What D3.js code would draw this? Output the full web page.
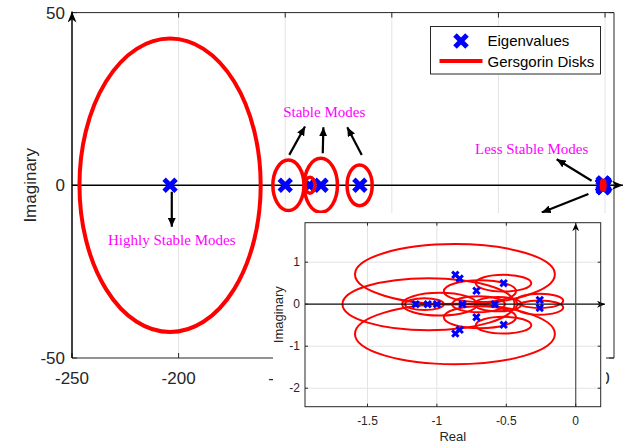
<!DOCTYPE html>
<html>
<head>
<meta charset="utf-8">
<script src="https://cdn.jsdelivr.net/npm/d3@7"></script>
<style>
  body { margin: 0; background: #fff; }
  svg { display: block; font-family: "Liberation Sans", Arial, sans-serif; }
</style>
</head>
<body>
<script>
// eigenvalues far from the origin (main plot)
const farRe = [-204, -150, -138.7, -133.2, -115];
const farIm = [0, 0, 0, 0, 0];
// gersgorin disks for those (centre, radius)
const farDiskRe = [-204, -148.5, -138.4, -133.3, -115.1];
const farDiskIm = [0, 0, 0, 0, 0];
const farDiskR = [42.5, 7.3, 2.3, 7.8, 5.9];

// eigenvalues close to the origin (shown in the inset)
const nearRe = [-1.153, -1.066, -1.0, -0.816, -0.582, -0.867, -0.867, -0.836, -0.836, -0.715, -0.715, -0.519, -0.519, -0.259, -0.259];
const nearIm = [0, 0, 0, 0, 0, 0.70, -0.70, 0.61, -0.61, 0.32, -0.31, 0.50, -0.49, 0.10, -0.09];
const nearDiskRe = [-0.87, -0.87, -1.06, -0.98, -1.09, -0.69, -0.69, -0.52, -0.52, -0.26, -0.26, -0.70, -0.56];
const nearDiskIm = [0.71, -0.71, 0, 0, 0, 0.31, -0.31, 0.50, -0.50, 0.08, -0.08, 0, 0];
const nearDiskR = [0.72, 0.72, 0.62, 0.27, 0.14, 0.26, 0.26, 0.20, 0.20, 0.17, 0.17, 0.19, 0.17];

// ticks
const mainXTicks = [-250, -200, -150, -100, -50, 0];
const mainYTicks = [-50, 0, 50];
const insetXTicks = [-1.5, -1, -0.5, 0];
const insetYTicks = [-2, -1, 0, 1];

// annotations (data units of the main plot)
const noteText = ['Highly Stable Modes', 'Stable Modes', 'Less Stable Modes'];
const noteX = [-203.2, -131.7, -34.4];
const noteY = [-17.3, 19.7, 9.0];
const arrowX1 = [-203.2, -148.1, -132.4, -114.1, -6.3, -7.8];
const arrowY1 = [-1.85, 8.8, 9.3, 8.8, 1.33, -2.5];
const arrowX2 = [-203.2, -140.7, -132.1, -120.9, -22.7, -29.7];
const arrowY2 = [-12.0, 17.0, 16.8, 16.8, 7.53, -7.9];

const W = 624, H = 446;
const RED = '#ff0000', BLUE = '#0000ff', AX = '#262626', GRID = '#e3e3e3';

const svg = d3.select('body').append('svg')
  .attr('width', W).attr('height', H);
svg.append('rect').attr('width', W).attr('height', H).attr('fill', '#fff');

const defs = svg.append('defs');
defs.append('marker').attr('id', 'ah')
  .attr('viewBox', '0 0 9 8').attr('refX', 9).attr('refY', 4)
  .attr('markerUnits', 'userSpaceOnUse').attr('markerWidth', 9).attr('markerHeight', 8)
  .attr('orient', 'auto').attr('preserveAspectRatio', 'none')
  .append('path').attr('d', 'M0,0L9,4L0,8Z').attr('fill', '#000');
defs.append('marker').attr('id', 'axh')
  .attr('viewBox', '0 0 10 10').attr('refX', 10).attr('refY', 5)
  .attr('markerUnits', 'userSpaceOnUse').attr('markerWidth', 11).attr('markerHeight', 9)
  .attr('orient', 'auto').attr('preserveAspectRatio', 'none')
  .append('path').attr('d', 'M0,0L10,5L0,10L3,5Z').attr('fill', '#000');
defs.append('marker').attr('id', 'axs')
  .attr('viewBox', '0 0 10 10').attr('refX', 10).attr('refY', 5)
  .attr('markerUnits', 'userSpaceOnUse').attr('markerWidth', 8).attr('markerHeight', 7)
  .attr('orient', 'auto').attr('preserveAspectRatio', 'none')
  .append('path').attr('d', 'M0,0L10,5L0,10L3,5Z').attr('fill', '#000');

const xMark = s => `M${-s},${-s}L${s},${s}M${-s},${s}L${s},${-s}`;

// ---------- main plot ----------
const mL = 72, mR = 614, mT = 12.6, mB = 358;
const x = d3.scaleLinear().domain([-250, 4.2]).range([mL, mR]);
const y = d3.scaleLinear().domain([-50, 50]).range([mB, mT]);

const main = svg.append('g');
main.selectAll('.vgrid').data(mainXTicks.slice(1)).enter().append('line')
  .attr('x1', d => x(d)).attr('x2', d => x(d)).attr('y1', mT).attr('y2', mB)
  .attr('stroke', GRID).attr('stroke-width', 1);

// box
main.append('path')
  .attr('d', `M${mL},${mB}L${mR},${mB}L${mR},${mT}L${mL},${mT}`)
  .attr('fill', 'none').attr('stroke', AX).attr('stroke-width', 1);

// tick marks, mirrored like a boxed axes
mainXTicks.forEach(t => {
  main.append('line').attr('x1', x(t)).attr('x2', x(t)).attr('y1', mB).attr('y2', mB - 5).attr('stroke', AX);
  main.append('line').attr('x1', x(t)).attr('x2', x(t)).attr('y1', mT).attr('y2', mT + 5).attr('stroke', AX);
});
mainYTicks.forEach(t => {
  main.append('line').attr('x1', mL).attr('x2', mL + 5).attr('y1', y(t)).attr('y2', y(t)).attr('stroke', AX);
  main.append('line').attr('x1', mR).attr('x2', mR - 5).attr('y1', y(t)).attr('y2', y(t)).attr('stroke', AX);
});

main.selectAll('.xl').data(mainXTicks).enter().append('text')
  .attr('x', d => x(d)).attr('y', 384).attr('text-anchor', 'middle')
  .attr('font-size', 17).attr('fill', AX).text(d => d);
main.selectAll('.yl').data(mainYTicks).enter().append('text')
  .attr('x', mL - 7).attr('y', d => y(d)).attr('dy', '0.35em').attr('text-anchor', 'end')
  .attr('font-size', 17).attr('fill', AX).text(d => d);
main.append('text')
  .attr('transform', `translate(36,${y(0)}) rotate(-90)`)
  .attr('text-anchor', 'middle').attr('font-size', 17).attr('fill', AX).text('Imaginary');

// axis arrows
main.append('line').attr('x1', mL).attr('x2', mL).attr('y1', mB).attr('y2', mT - 1)
  .attr('stroke', '#000').attr('stroke-width', 1.5).attr('marker-end', 'url(#axh)');
main.append('line').attr('x1', mL).attr('x2', 623).attr('y1', y(0)).attr('y2', y(0))
  .attr('stroke', '#000').attr('stroke-width', 1.5).attr('marker-end', 'url(#axh)');

// eigenvalues (blue) under the disks (red)
const allRe = farRe.concat(nearRe), allIm = farIm.concat(nearIm);
main.selectAll('.ev').data(allRe).enter().append('path')
  .attr('d', xMark(6))
  .attr('transform', (d, i) => `translate(${x(d)},${y(allIm[i])})`)
  .attr('fill', 'none').attr('stroke', BLUE).attr('stroke-width', 4.8);

const diskRe = farDiskRe.concat(nearDiskRe), diskIm = farDiskIm.concat(nearDiskIm), diskR = farDiskR.concat(nearDiskR);
main.selectAll('.disk').data(diskRe).enter().append('ellipse')
  .attr('cx', d => x(d)).attr('cy', (d, i) => y(diskIm[i]))
  .attr('rx', (d, i) => x(d + diskR[i]) - x(d))
  .attr('ry', (d, i) => y(diskIm[i]) - y(diskIm[i] + diskR[i]))
  .attr('fill', 'none').attr('stroke', RED)
  .attr('stroke-width', (d, i) => diskR[i] > 20 ? 4 : 3.5);

// annotations
main.selectAll('.arr').data(arrowX1).enter().append('line')
  .attr('x1', d => x(d)).attr('y1', (d, i) => y(arrowY1[i]))
  .attr('x2', (d, i) => x(arrowX2[i])).attr('y2', (d, i) => y(arrowY2[i]))
  .attr('stroke', '#000').attr('stroke-width', 2.2).attr('marker-end', 'url(#ah)');
main.selectAll('.note').data(noteText).enter().append('text')
  .attr('x', (d, i) => x(noteX[i])).attr('y', (d, i) => y(noteY[i]))
  .attr('text-anchor', 'middle').attr('font-family', '"Liberation Serif", "Times New Roman", serif')
  .attr('font-size', 15).attr('fill', '#ff00ff').text(d => d);

// legend
const leg = main.append('g');
leg.append('rect').attr('x', 430.5).attr('y', 26.5).attr('width', 170).attr('height', 47.5)
  .attr('fill', '#fff').attr('stroke', AX).attr('stroke-width', 1);
leg.append('path').attr('d', xMark(6)).attr('transform', 'translate(461,41)')
  .attr('fill', 'none').attr('stroke', BLUE).attr('stroke-width', 5);
leg.append('line').attr('x1', 439.5).attr('x2', 482.5).attr('y1', 61).attr('y2', 61)
  .attr('stroke', RED).attr('stroke-width', 4);
leg.append('text').attr('x', 487.5).attr('y', 41).attr('dy', '0.35em')
  .attr('font-size', 15).attr('fill', '#000').text('Eigenvalues');
leg.append('text').attr('x', 487.5).attr('y', 61.5).attr('dy', '0.35em')
  .attr('font-size', 15).attr('fill', '#000').text('Gersgorin Disks');

// ---------- inset ----------
svg.append('rect').attr('x', 273).attr('y', 213).attr('width', 333).attr('height', H - 213).attr('fill', '#fff');

const iL = 305, iR = 600.7, iT = 222.7, iB = 406.7;
const xi = d3.scaleLinear().domain([-1.95, 0.18]).range([iL, iR]);
const yi = d3.scaleLinear().domain([-2.44, 1.94]).range([iB, iT]);
const ins = svg.append('g');

ins.selectAll('.gx').data(insetXTicks).enter().append('line')
  .attr('x1', d => xi(d)).attr('x2', d => xi(d)).attr('y1', iT).attr('y2', iB)
  .attr('stroke', GRID);
ins.selectAll('.gy').data(insetYTicks).enter().append('line')
  .attr('x1', iL).attr('x2', iR).attr('y1', d => yi(d)).attr('y2', d => yi(d))
  .attr('stroke', GRID);

ins.selectAll('.idisk').data(nearDiskRe).enter().append('ellipse')
  .attr('cx', d => xi(d)).attr('cy', (d, i) => yi(nearDiskIm[i]))
  .attr('rx', (d, i) => xi(d + nearDiskR[i]) - xi(d))
  .attr('ry', (d, i) => yi(nearDiskIm[i]) - yi(nearDiskIm[i] + nearDiskR[i]))
  .attr('fill', 'none').attr('stroke', RED).attr('stroke-width', 2);

// inset axis arrows
ins.append('line').attr('x1', iL).attr('x2', 605).attr('y1', yi(0)).attr('y2', yi(0))
  .attr('stroke', '#111').attr('stroke-width', 1.2).attr('marker-end', 'url(#axs)');
ins.append('line').attr('x1', xi(0)).attr('x2', xi(0)).attr('y1', iB).attr('y2', iT + 0.5)
  .attr('stroke', '#555').attr('stroke-width', 1.2).attr('marker-end', 'url(#axs)');

ins.selectAll('.iev').data(nearRe).enter().append('path')
  .attr('d', xMark(3.2))
  .attr('transform', (d, i) => `translate(${xi(d)},${yi(nearIm[i])})`)
  .attr('fill', 'none').attr('stroke', BLUE).attr('stroke-width', 3);

ins.append('rect').attr('x', iL).attr('y', iT).attr('width', iR - iL).attr('height', iB - iT)
  .attr('fill', 'none').attr('stroke', AX).attr('stroke-width', 1);
insetXTicks.forEach(t => {
  ins.append('line').attr('x1', xi(t)).attr('x2', xi(t)).attr('y1', iB).attr('y2', iB - 3).attr('stroke', AX);
  ins.append('line').attr('x1', xi(t)).attr('x2', xi(t)).attr('y1', iT).attr('y2', iT + 3).attr('stroke', AX);
});
insetYTicks.forEach(t => {
  ins.append('line').attr('x1', iL).attr('x2', iL + 3).attr('y1', yi(t)).attr('y2', yi(t)).attr('stroke', AX);
  ins.append('line').attr('x1', iR).attr('x2', iR - 3).attr('y1', yi(t)).attr('y2', yi(t)).attr('stroke', AX);
});
ins.selectAll('.ixl').data(insetXTicks).enter().append('text')
  .attr('x', d => xi(d)).attr('y', 424.5).attr('text-anchor', 'middle')
  .attr('font-size', 12).attr('fill', AX).text(d => d);
ins.selectAll('.iyl').data(insetYTicks).enter().append('text')
  .attr('x', 300).attr('y', d => yi(d)).attr('dy', '0.35em').attr('text-anchor', 'end')
  .attr('font-size', 12).attr('fill', AX).text(d => d);
ins.append('text').attr('x', (iL + iR) / 2).attr('y', 441)
  .attr('text-anchor', 'middle').attr('font-size', 13).attr('fill', AX).text('Real');
ins.append('text').attr('transform', `translate(283,${(iT + iB) / 2}) rotate(-90)`)
  .attr('text-anchor', 'middle').attr('font-size', 13).attr('fill', AX).text('Imaginary');
</script>
</body>
</html>
